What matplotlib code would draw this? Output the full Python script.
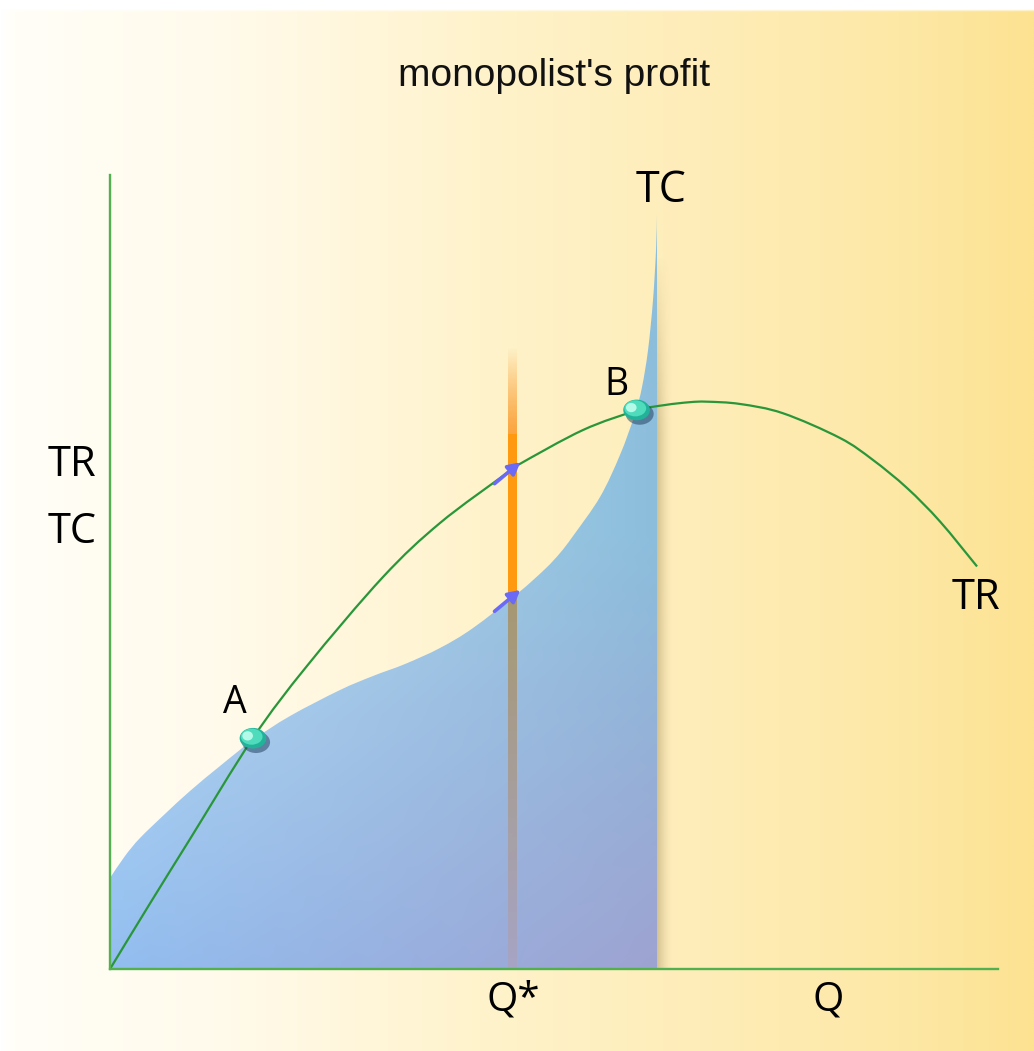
import numpy as np
import matplotlib
matplotlib.use("Agg")
import matplotlib.pyplot as plt
from matplotlib.patches import Ellipse, PathPatch
from matplotlib.path import Path
from matplotlib.colors import to_rgb

# ---------------- data ----------------
tr_q = [0.000, 0.450, 0.901, 1.610, 2.218, 3.074, 3.716, 4.471, 4.595, 5.327,
        5.935, 6.250, 6.532, 6.723, 7.095, 7.579, 8.221, 8.592, 8.975, 9.347, 9.764]
tr_v = [0.000, 0.826, 1.639, 2.913, 3.821, 4.943, 5.624, 6.255, 6.356, 6.797,
        7.043, 7.112, 7.148, 7.154, 7.125, 7.008, 6.696, 6.419, 6.066, 5.643, 5.076]

tc_q = [0.000, 0.169, 0.338, 0.619, 0.901, 1.239, 1.610, 2.027, 2.590, 2.962,
        3.322, 3.716, 4.088, 4.595, 4.899, 5.068, 5.214, 5.518, 5.743,
        5.912, 5.991, 6.059, 6.115, 6.149, 6.160]
tc_v = [1.148, 1.425, 1.652, 1.955, 2.245, 2.560, 2.888, 3.190, 3.518, 3.695,
        3.846, 4.048, 4.300, 4.741, 5.044, 5.246, 5.460, 5.952, 6.482,
        6.999, 7.339, 7.806, 8.436, 9.067, 9.508]

points_lbl = ["A", "B"]
points_q = [1.61, 5.93]
points_v = [2.91, 7.05]

q_star = 4.53
tr_at_qstar = 6.36
tc_at_qstar = 4.75
bar_top = 7.84
q_max_cost = 6.16          # right edge of the cost area

title = "monopolist's profit"
x_label = "Q"
q_star_label = "Q*"
y_labels = ["TR", "TC"]
curve_labels = {"TC": "TC", "TR": "TR"}


def smooth_path_codes(xs, ys):
    """Catmull-Rom through the read points, expressed as cubic Bezier path pieces."""
    P = np.column_stack([xs, ys]).astype(float)
    n = len(P)
    verts = [P[0]]
    codes = [Path.MOVETO]
    for i in range(n - 1):
        p0 = P[i - 1] if i > 0 else P[i]
        p1, p2 = P[i], P[i + 1]
        p3 = P[i + 2] if i + 2 < n else P[i + 1]
        c1 = p1 + (p2 - p0) / 6.0
        c2 = p2 - (p3 - p1) / 6.0
        verts += [c1, c2, p2]
        codes += [Path.CURVE4] * 3
    return verts, codes


# ---------------- figure ----------------
W, H = 1034, 1051
fig = plt.figure(figsize=(W / 100, H / 100), dpi=100)

# background gradient
bg = fig.add_axes([0, 0, 1, 1], zorder=0)
bg.set_axis_off()
xs = np.linspace(0, W, 600)
stops_x = [0, 14, 230, 480, 700, 900, W]
stops_c = ["#ffffff", "#fffef7", "#fffaea", "#fff3cc", "#feedb8", "#fde8a6", "#fce291"]
cols = np.array([to_rgb(c) for c in stops_c])
row = np.stack([np.interp(xs, stops_x, cols[:, k]) for k in range(3)], axis=-1)
img = np.repeat(row[None, :, :], 300, axis=0)
img[-3:, :, :] = 1.0  # thin white strip at top
bg.imshow(img, extent=[0, 1, 0, 1], aspect="auto", origin="lower")
bg.set_xlim(0, 1); bg.set_ylim(0, 1)

ax = fig.add_axes([0, 0, 1, 1], zorder=1)
ax.set_facecolor("none")
ax.set_xlim(-110 / 88.8, (W - 110) / 88.8)
ax.set_ylim(-(H - 969) / 79.3, 969 / 79.3)
ax.set_xticks([]); ax.set_yticks([])
for s in ["top", "right"]:
    ax.spines[s].set_visible(False)
axis_green = "#52b04f"
for s in ["left", "bottom"]:
    ax.spines[s].set_position(("data", 0))
    ax.spines[s].set_color(axis_green)
    ax.spines[s].set_linewidth(1.7)
    ax.spines[s].set_zorder(6)
ax.spines["left"].set_bounds(0, 10.01)
ax.spines["bottom"].set_bounds(0, 10.0)

# ---------------- cost area (gradient clipped to smooth TC outline) ----------------
cv, cc = smooth_path_codes(tc_q, tc_v)
cv = cv + [(q_max_cost, 0.0), (0.0, 0.0), (0.0, 0.0)]
cc = cc + [Path.LINETO, Path.LINETO, Path.CLOSEPOLY]
clip = PathPatch(Path(cv, cc), transform=ax.transData,
                 facecolor="none", edgecolor="none")
ax.add_patch(clip)
ny, nx = 200, 200
ytop = max(tc_v)
u = np.linspace(0, 1, nx)[None, :, None]
yy = np.linspace(0, ytop, ny)
v = np.clip(yy / 5.5, 0, 1)[:, None, None]
TL, TR_, BL, BR = [np.array(to_rgb(c)) for c in ("#bfe2f4", "#8cbedc", "#92bef0", "#9ea3d1")]
grad = (1 - u) * (1 - v) * BL + u * (1 - v) * BR + (1 - u) * v * TL + u * v * TR_
im = ax.imshow(grad, extent=[0, q_max_cost, 0, ytop], aspect="auto",
               origin="lower", zorder=2)
im.set_clip_path(clip)

# shadow right of the cost area
su = np.linspace(0, 1, 40)[None, :]
sv = np.linspace(0, 1, 100)[:, None]
sh = np.zeros((100, 40, 4))
sh[..., 0], sh[..., 1], sh[..., 2] = 0.45, 0.36, 0.18
sh[..., 3] = 0.30 * (1 - su) ** 1.6 * np.clip((1 - sv) / 0.25, 0, 1) ** 0.8
ax.imshow(sh, extent=[q_max_cost, q_max_cost + 0.17, 0, ytop * 0.95],
          aspect="auto", origin="lower", zorder=2)

# ---------------- Q* bar ----------------
bw = 0.10
n = 100
bb = np.zeros((n, 2, 4))
top_c, bot_c = np.array(to_rgb("#a8966a")), np.array(to_rgb("#a7a4c4"))
t = np.linspace(0, 1, n)[:, None]
bb[..., :3] = ((1 - t) * bot_c + t * top_c)[:, None, :]
bb[..., 3] = 0.95
ax.imshow(bb, extent=[q_star - bw / 2, q_star + bw / 2, 0, tc_at_qstar],
          aspect="auto", origin="lower", zorder=3)
fade_start = 6.75
ax.fill_between([q_star - bw / 2, q_star + bw / 2], tc_at_qstar, fade_start,
                color="#ff9a10", lw=0, zorder=3)
fb = np.zeros((n, 2, 4))
fb[..., :3] = np.array(to_rgb("#fba540"))
fb[..., 3] = (1 - np.linspace(0, 1, n) ** 1.2)[:, None]
ax.imshow(fb, extent=[q_star - bw / 2, q_star + bw / 2, fade_start, bar_top],
          aspect="auto", origin="lower", zorder=3)

# ---------------- TR curve ----------------
rv, rc = smooth_path_codes(tr_q, tr_v)
ax.add_patch(PathPatch(Path(rv, rc), facecolor="none", edgecolor="#2a963a",
                       lw=1.6, zorder=5, transform=ax.transData))

# arrows on Q* bar
for yv in (tr_at_qstar, tc_at_qstar):
    ax.annotate("", xy=(q_star + 0.09, yv + 0.03), xytext=(q_star - 0.2, yv - 0.24),
                arrowprops=dict(arrowstyle="-|>,head_length=0.7,head_width=0.38",
                                color="#6a6af6", lw=2.6, shrinkA=0, shrinkB=0),
                zorder=6)

# ---------------- A, B points ----------------
ew, eh = 0.30, 0.26
for lbl, q, val in zip(points_lbl, points_q, points_v):
    ax.add_patch(Ellipse((q + 0.035, val - 0.05), ew * 1.05, eh * 1.05,
                         facecolor="#1b3a58", alpha=0.5, lw=0, zorder=7))
    ax.add_patch(Ellipse((q, val), ew, eh, facecolor="#22b29a", lw=0, zorder=8))
    ax.add_patch(Ellipse((q - 0.015, val + 0.02), ew * 0.82, eh * 0.78,
                         facecolor="#4fdcbc", lw=0, zorder=8))
    ax.add_patch(Ellipse((q - 0.06, val + 0.03), ew * 0.40, eh * 0.45,
                         facecolor="#c8fff0", lw=0, alpha=0.85, zorder=9))

# ---------------- texts ----------------
lab_font = ["Open Sans", "DejaVu Sans"]
ax.text(5.0, 11.255, title, ha="center", va="center", fontsize=28,
        family=["Liberation Sans Narrow", "Liberation Sans", "DejaVu Sans"], color="#111111")
ax.text(6.205, 9.81, curve_labels["TC"], ha="center", va="center", fontsize=31, family=lab_font)
ax.text(9.752, 4.678, curve_labels["TR"], ha="center", va="center", fontsize=30, family=lab_font)
ax.text(5.698, 7.364, points_lbl[1], ha="center", va="center", fontsize=27, family=lab_font)
ax.text(1.408, 3.354, points_lbl[0], ha="center", va="center", fontsize=27, family=lab_font)
ax.text(-0.428, 6.356, y_labels[0], ha="center", va="center", fontsize=30, family=lab_font)
ax.text(-0.428, 5.511, y_labels[1], ha="center", va="center", fontsize=30, family=lab_font)
ax.text(q_star + 0.01, -0.39, q_star_label, ha="center", va="center", fontsize=29, family=lab_font)
ax.text(8.086, -0.39, x_label, ha="center", va="center", fontsize=29, family=lab_font)

fig.savefig("out.png", dpi=100)
